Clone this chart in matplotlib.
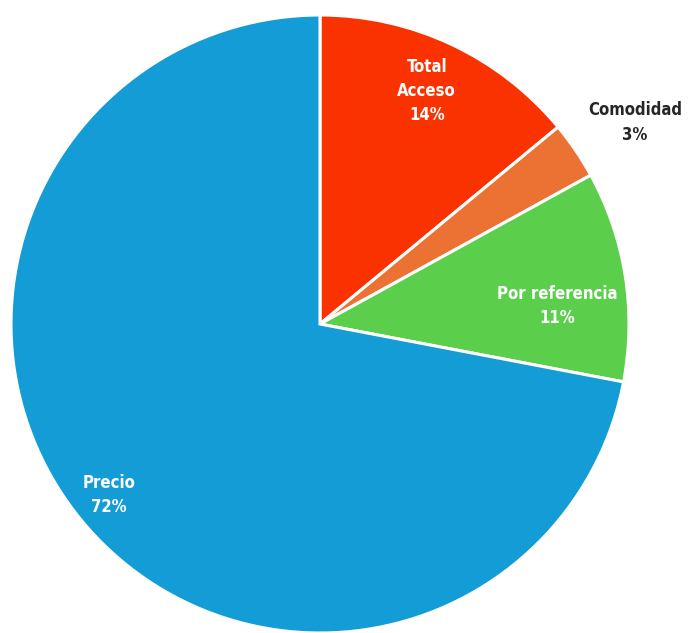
import numpy as np
import matplotlib.pyplot as plt
from matplotlib import font_manager

labels = ["Total\nAcceso", "Comodidad", "Por referencia", "Precio"]
shares = [14, 3, 11, 72]
colors = ["#FA3200", "#EB7232", "#5BCF4B", "#139CD5"]
text_colors = ["white", "#262626", "white", "white"]
# label placement per slice: fraction of radius, angle shift in degrees
label_radius = [0.83, 1.21, 0.77, 0.88]
label_shift = [0.6, -1.6, -4.6, -0.6]

names = {f.name for f in font_manager.fontManager.ttflist}
print(sorted(n for n in names if "Narrow" in n or "Condensed" in n or "DejaVu" in n))

plt.rcParams["font.family"] = ["DejaVu Sans"]

fig = plt.figure(figsize=(6.88, 6.33), dpi=100)
ax = fig.add_axes([0, 0, 1, 1])

wedges, _ = ax.pie(
    shares,
    colors=colors,
    startangle=90,
    counterclock=False,
    wedgeprops=dict(edgecolor="white", linewidth=2.2),
)

for w, name, val, tc, rf, sh in zip(wedges, labels, shares, text_colors, label_radius, label_shift):
    mid = np.deg2rad((w.theta1 + w.theta2) / 2 + sh)
    ax.text(rf * np.cos(mid), rf * np.sin(mid), f"{name}\n{val}%",
            ha="center", va="center", color=tc, fontsize=12,
            fontweight="bold", fontstretch="condensed", linespacing=1.45)

r = 309.0
ax.set_xlim(-320 / r, (688 - 320) / r)
ax.set_ylim(-(633 - 324) / r, 324 / r)
ax.set_aspect("equal")
ax.axis("off")

fig.savefig("out.png", dpi=100)
